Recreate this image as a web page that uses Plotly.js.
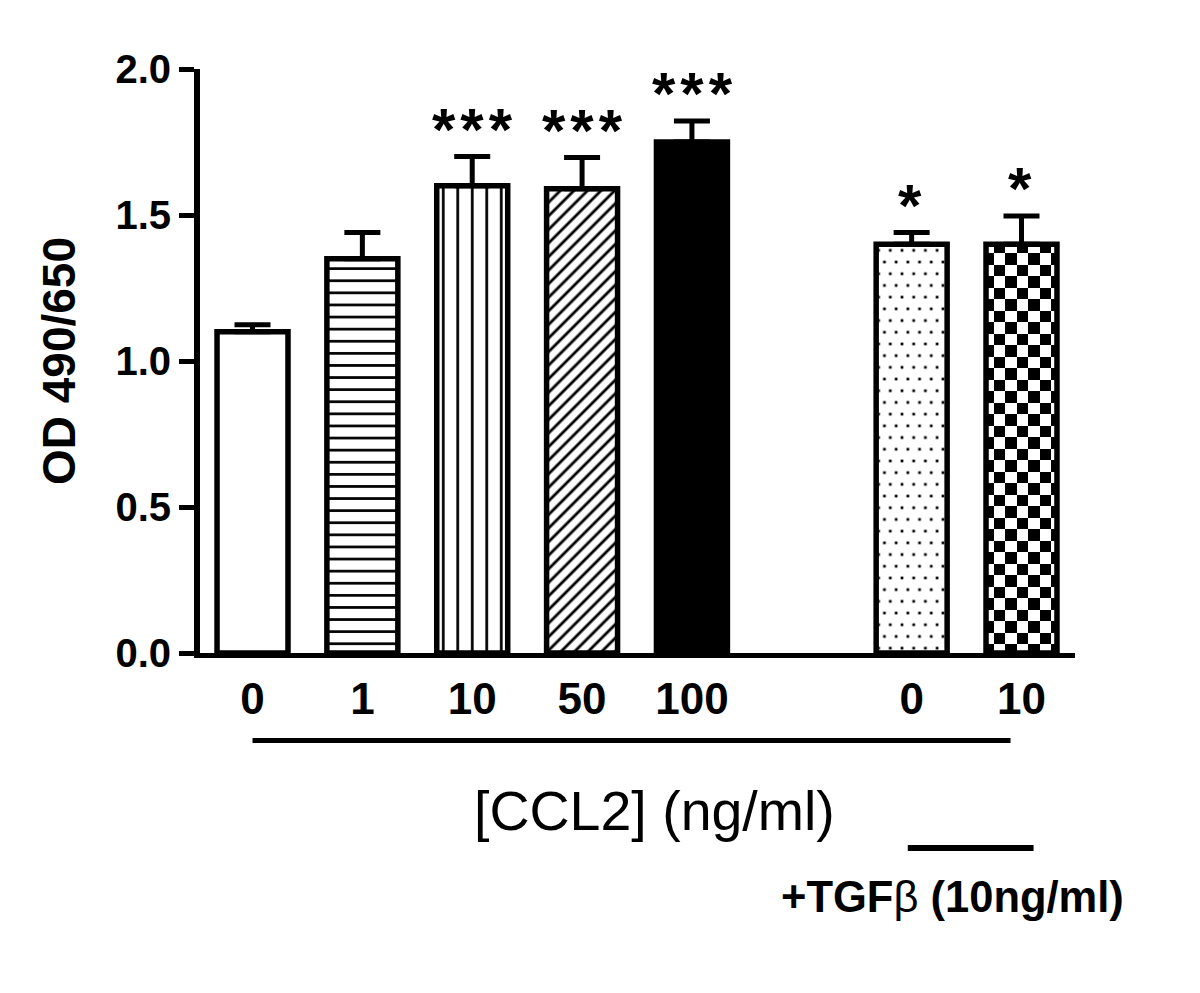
<!DOCTYPE html>
<html>
<head>
<meta charset="utf-8">
<script src="https://cdn.plot.ly/plotly-3.0.1.min.js"></script>
<style>
  html, body { margin: 0; padding: 0; background: #ffffff; }
  #chart { width: 1200px; height: 993px; }
</style>
</head>
<body>
<div id="chart"></div>
<script>
// ---- data ----
const categories = ['0', '1', '10', '50', '100', '0', '10'];
const groups     = ['CCL2', 'CCL2', 'CCL2', 'CCL2', 'CCL2', 'TGF', 'TGF'];
const means      = [1.10, 1.35, 1.60, 1.59, 1.75, 1.40, 1.40];
const sems       = [0.024, 0.09, 0.10, 0.107, 0.072, 0.04, 0.097];
const sig        = ['', '', '***', '***', '***', '*', '*'];
const yTickVals  = [0, 0.5, 1.0, 1.5, 2.0];

// ---- styling (not data) ----
const fills = ['white', 'hlines', 'vlines', 'diag', 'black', 'dots', 'checker'];
const FONT = 'Liberation Sans, Arial, Helvetica, sans-serif';

// positions: TGF group is separated by one empty slot
const xpos = categories.map((c, i) => i + (groups[i] === 'TGF' ? 1 : 0));

const trace = {
  type: 'bar',
  x: xpos,
  y: means,
  width: 0.646,
  marker: {
    color: fills.map(f => f === 'black' ? 'black' : 'white'),
    line: {color: 'black', width: 5.5}
  },
  error_y: {
    type: 'data',
    symmetric: false,
    array: sems,
    arrayminus: sems.map(() => 0),
    color: 'black',
    thickness: 5,
    width: 18
  },
  hoverinfo: 'skip',
  showlegend: false
};

const annotations = [];
sig.forEach((s, i) => {
  if (!s) return;
  annotations.push({
    x: xpos[i], y: means[i] + sems[i], xref: 'x', yref: 'y',
    text: '<span style="letter-spacing:5px">' + s + '</span>',
    showarrow: false, xanchor: 'center', yanchor: 'middle',
    xshift: s.length > 1 ? 2.5 : 0, yshift: 27,
    font: {family: FONT, size: 60, weight: 'bold', color: 'black'}
  });
});
annotations.push({
  x: 3.655, y: -0.2705, xref: 'x', yref: 'paper',
  text: '[CCL2] (ng/ml)', showarrow: false, xanchor: 'center', yanchor: 'middle',
  font: {family: FONT, size: 55.5, color: 'black'}
});
annotations.push({
  x: 6.37, y: -0.418, xref: 'x', yref: 'paper',
  text: '<b>+TGF</b>β<b> (10ng/ml)</b>', showarrow: false, xanchor: 'center', yanchor: 'middle',
  font: {family: FONT, size: 43.5, color: 'black'}
});

const layout = {
  width: 1200, height: 993,
  margin: {l: 200, r: 125, t: 69, b: 340, pad: 0},
  paper_bgcolor: 'white', plot_bgcolor: 'white',
  font: {family: FONT, color: 'black'},
  xaxis: {
    range: [-0.478, 7.487],
    tickvals: xpos, ticktext: categories,
    showline: true, linecolor: 'black', linewidth: 5,
    ticks: '', showgrid: false, zeroline: false,
    tickfont: {family: FONT, size: 44, weight: 'bold', color: 'black'},
    ticklabelstandoff: 3,
    fixedrange: true
  },
  yaxis: {
    range: [0, 2],
    tickvals: yTickVals, tickformat: '.1f',
    showline: true, linecolor: 'black', linewidth: 6,
    ticks: 'outside', ticklen: 15, tickwidth: 5, tickcolor: 'black',
    showgrid: false, zeroline: false,
    tickfont: {family: FONT, size: 40, weight: 'bold', color: 'black'},
    title: {text: 'OD 490/650', font: {family: FONT, size: 46, weight: 'bold', color: 'black'}, standoff: 27},
    fixedrange: true
  },
  shapes: [
    {type: 'line', xref: 'x', yref: 'paper', x0: 0, x1: 6.9, y0: -0.1498, y1: -0.1498,
     line: {color: 'black', width: 5}},
    {type: 'line', xref: 'x', yref: 'paper', x0: 5.965, x1: 7.11, y0: -0.334, y1: -0.334,
     line: {color: 'black', width: 6}}
  ],
  annotations: annotations,
  bargap: 0
};

const gd = document.getElementById('chart');

// Fill textures (GraphPad-style hatching) applied to the bars Plotly drew
function applyCustomFills() {
  const ns = 'http://www.w3.org/2000/svg';
  const svg = gd.querySelector('.main-svg');
  let defs = svg.querySelector('defs');
  if (!defs) { defs = document.createElementNS(ns, 'defs'); svg.insertBefore(defs, svg.firstChild); }
  const mk = (tag, attrs) => {
    const el = document.createElementNS(ns, tag);
    Object.keys(attrs).forEach(k => el.setAttribute(k, attrs[k]));
    return el;
  };
  const paths = gd.querySelectorAll('.barlayer .trace .point path');
  paths.forEach((p, i) => {
    const f = fills[i];
    if (f === 'white' || f === 'black') return;
    const id = 'customfill-' + f + '-' + i;
    let pat;
    if (f === 'hlines') {
      const s = 12.1, lw = 2.7;
      pat = mk('pattern', {id: id, patternUnits: 'userSpaceOnUse', width: 20, height: s});
      pat.appendChild(mk('rect', {width: 20, height: s, fill: 'white'}));
      pat.appendChild(mk('rect', {x: 0, y: s / 2 - lw / 2, width: 20, height: lw, fill: 'black'}));
    } else if (f === 'vlines') {
      const s = 14.5, lw = 2.7;
      pat = mk('pattern', {id: id, patternUnits: 'userSpaceOnUse', width: s, height: 20, x: 4});
      pat.appendChild(mk('rect', {width: s, height: 20, fill: 'white'}));
      pat.appendChild(mk('rect', {x: s / 2 - lw / 2, y: 0, width: lw, height: 20, fill: 'black'}));
    } else if (f === 'diag') {
      const s = 9.6, lw = 2.8;
      pat = mk('pattern', {id: id, patternUnits: 'userSpaceOnUse', width: s, height: 20,
                           patternTransform: 'rotate(45)'});
      pat.appendChild(mk('rect', {width: s, height: 20, fill: 'white'}));
      pat.appendChild(mk('rect', {x: s / 2 - lw / 2, y: 0, width: lw, height: 20, fill: 'black'}));
    } else if (f === 'dots') {
      const w = 11.7, h = 23.4, d = 2.7;
      pat = mk('pattern', {id: id, patternUnits: 'userSpaceOnUse', width: w, height: h});
      pat.appendChild(mk('rect', {width: w, height: h, fill: 'white'}));
      [[w / 2, h / 4], [0, 3 * h / 4], [w, 3 * h / 4]].forEach(([cx, cy]) => {
        pat.appendChild(mk('rect', {x: cx - d / 2, y: cy - d / 2, width: d, height: d, fill: 'black'}));
      });
    } else if (f === 'checker') {
      const c = 11.5, t = 23;
      pat = mk('pattern', {id: id, patternUnits: 'userSpaceOnUse', width: t, height: t,
                           'shape-rendering': 'crispEdges'});
      pat.appendChild(mk('rect', {width: t, height: t, fill: 'white'}));
      [[0, 0], [c, c]].forEach(([x, y]) => {
        pat.appendChild(mk('rect', {x: x, y: y, width: c, height: c, fill: 'black'}));
      });
    }
    defs.appendChild(pat);
    p.style.fill = 'url(#' + id + ')';
  });
}

Plotly.newPlot(gd, [trace], layout, {staticPlot: true, displayModeBar: false}).then(applyCustomFills);
</script>
</body>
</html>
